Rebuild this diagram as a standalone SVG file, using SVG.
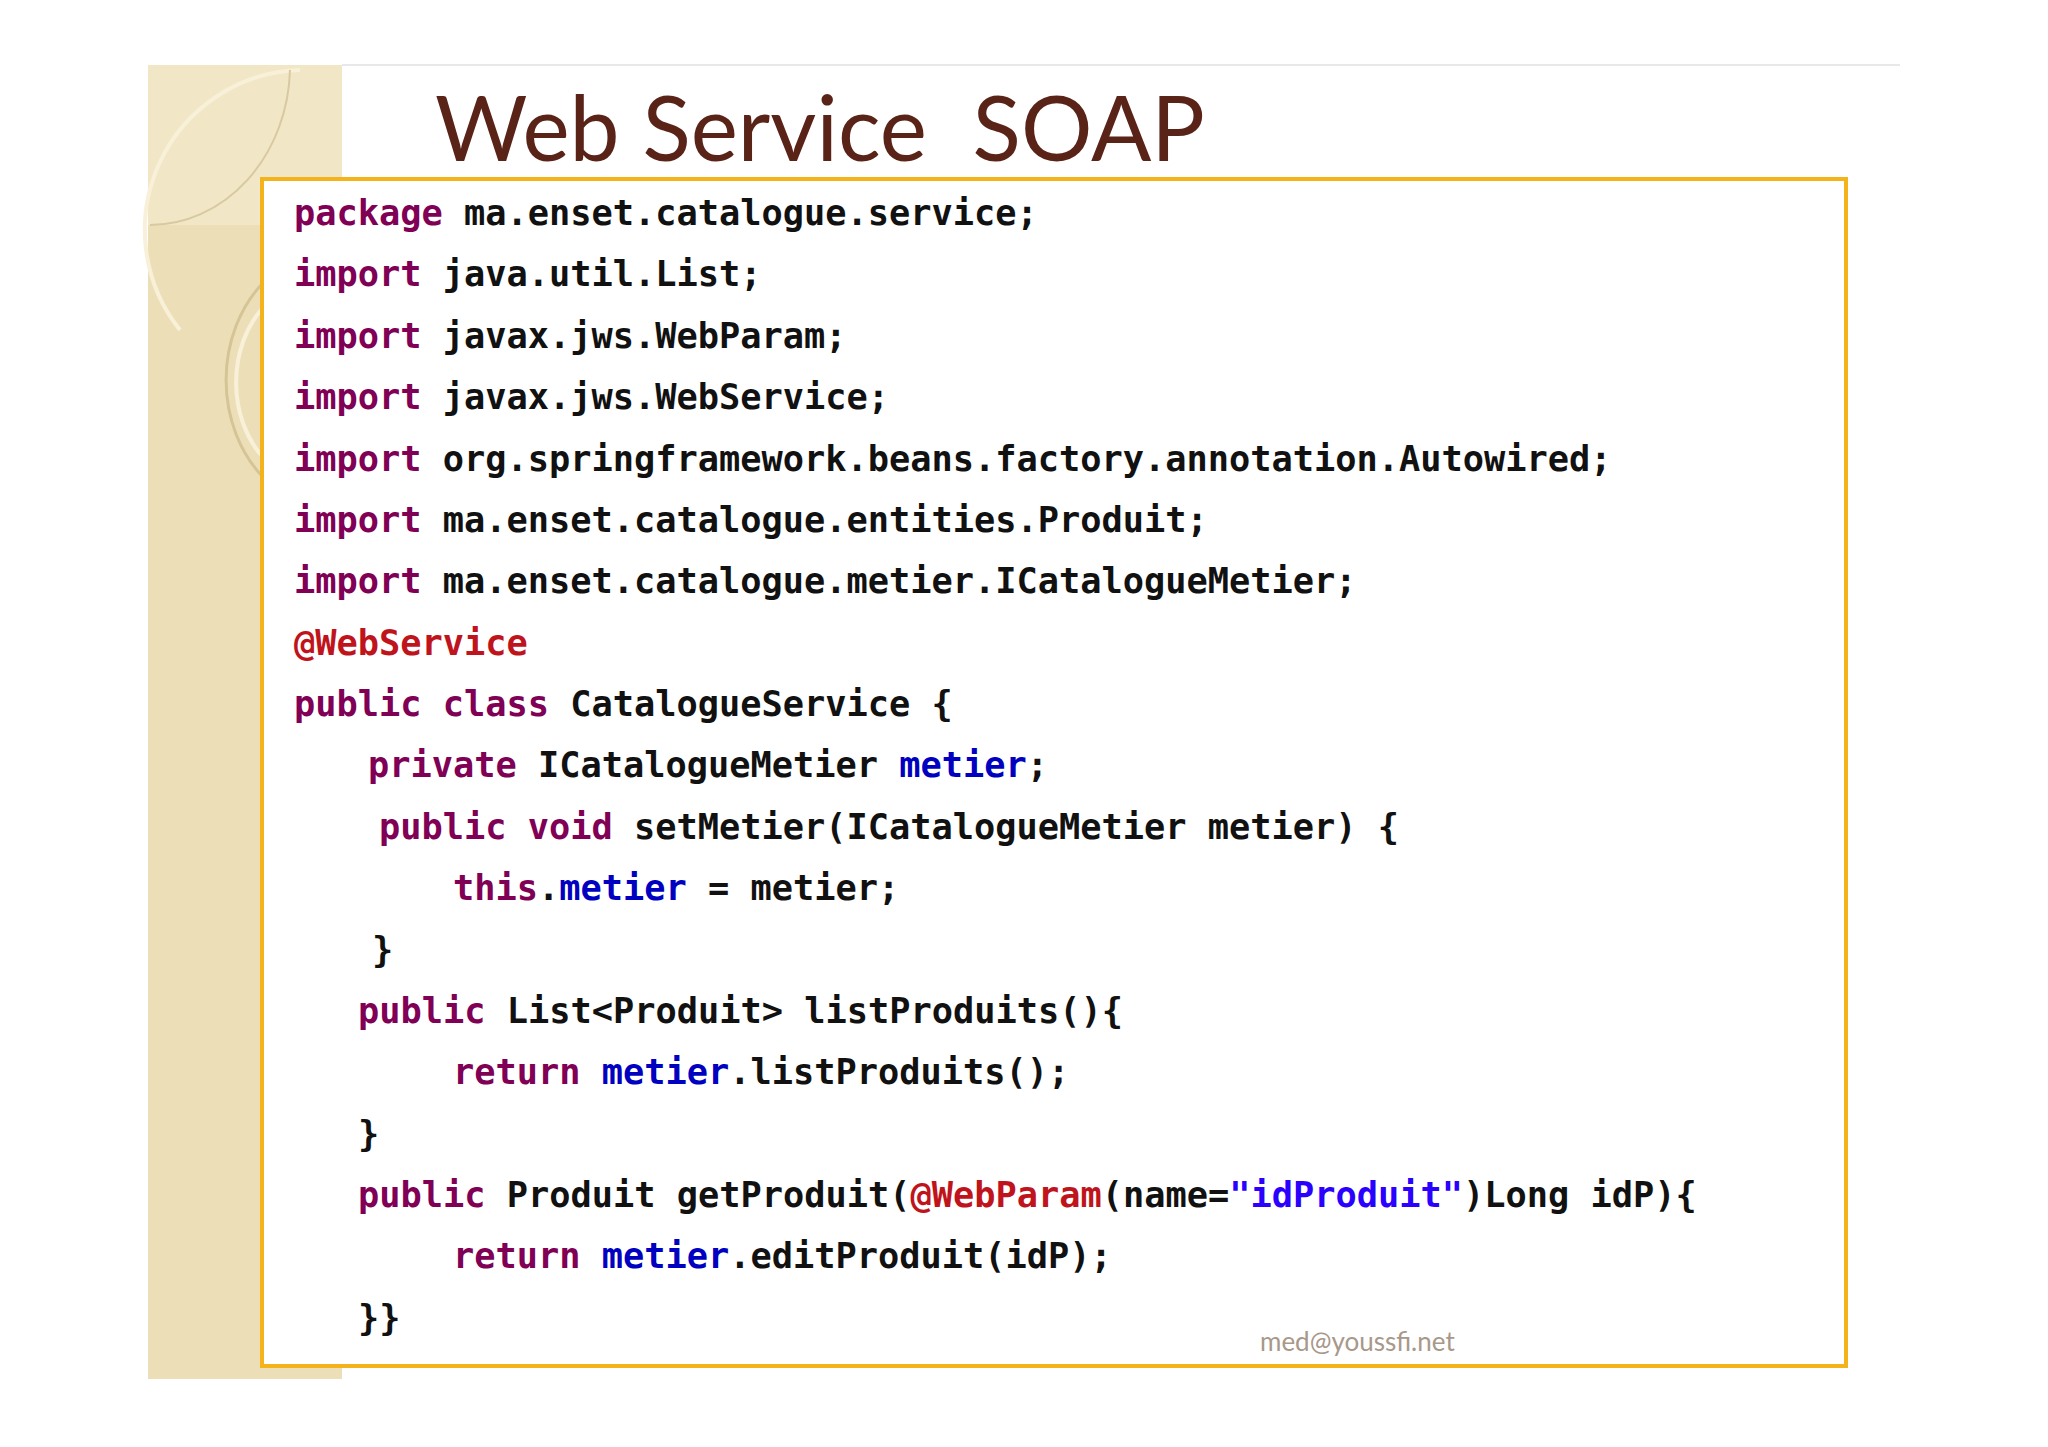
<svg xmlns="http://www.w3.org/2000/svg" width="2048" height="1447" viewBox="0 0 2048 1447">
<style>
.c{font-family:"DejaVu Sans Mono","Liberation Mono",monospace;font-size:35.3px;font-weight:bold;fill:#111}
.k{fill:#7f0055}.a{fill:#c0141c}.f{fill:#0000c0}.s{fill:#2a00ff}
</style>
<rect width="2048" height="1447" fill="#fff"/>
<g id="deco">
<rect x="148" y="65" width="194" height="1314" fill="#ecdfb8"/>
<rect x="148" y="65" width="194" height="160" fill="#f1e6c6"/>
<line x1="342" y1="65" x2="1900" y2="65" stroke="#e8e8e8" stroke-width="2"/>
<path d="M300 70 A160 160 0 0 0 180 330" fill="none" stroke="#f8f0d8" stroke-width="4"/>
<path d="M290 70 A140 160 0 0 1 150 225" fill="none" stroke="#d8c9a0" stroke-width="2"/>
<path d="M261 285 A110 130 0 0 0 261 475" fill="none" stroke="#d6c497" stroke-width="3"/>
<path d="M261 310 A80 100 0 0 0 261 455" fill="none" stroke="#f8f0d8" stroke-width="4"/>
</g>
<g id="title"><text x="435" y="161" font-family="Lato,'Open Sans',sans-serif" font-size="92" fill="#5a2318" textLength="770" lengthAdjust="spacingAndGlyphs" xml:space="preserve">Web Service  SOAP</text></g>
<g id="codebox">
<rect x="262" y="179" width="1584" height="1187" fill="#fff" stroke="#f5b31b" stroke-width="4"/>
<g class="c" xml:space="preserve">
<text x="294" y="225"><tspan class="k">package</tspan> ma.enset.catalogue.service;</text>
<text x="294" y="286"><tspan class="k">import</tspan> java.util.List;</text>
<text x="294" y="348"><tspan class="k">import</tspan> javax.jws.WebParam;</text>
<text x="294" y="409"><tspan class="k">import</tspan> javax.jws.WebService;</text>
<text x="294" y="471"><tspan class="k">import</tspan> org.springframework.beans.factory.annotation.Autowired;</text>
<text x="294" y="532"><tspan class="k">import</tspan> ma.enset.catalogue.entities.Produit;</text>
<text x="294" y="593"><tspan class="k">import</tspan> ma.enset.catalogue.metier.ICatalogueMetier;</text>
<text x="294" y="655" class="c a">@WebService</text>
<text x="294" y="716"><tspan class="k">public</tspan> <tspan class="k">class</tspan> CatalogueService {</text>
<text x="368" y="777"><tspan class="k">private</tspan> ICatalogueMetier <tspan class="f">metier</tspan>;</text>
<text x="379" y="839"><tspan class="k">public</tspan> <tspan class="k">void</tspan> setMetier(ICatalogueMetier metier) {</text>
<text x="453" y="900"><tspan class="k">this</tspan>.<tspan class="f">metier</tspan> = metier;</text>
<text x="372" y="962">}</text>
<text x="358" y="1023"><tspan class="k">public</tspan> List&lt;Produit&gt; listProduits(){</text>
<text x="453" y="1084"><tspan class="k">return</tspan> <tspan class="f">metier</tspan>.listProduits();</text>
<text x="358" y="1146">}</text>
<text x="358" y="1207"><tspan class="k">public</tspan> Produit getProduit(<tspan class="a">@WebParam</tspan>(name=<tspan class="s">"idProduit"</tspan>)Long idP){</text>
<text x="453" y="1268"><tspan class="k">return</tspan> <tspan class="f">metier</tspan>.editProduit(idP);</text>
<text x="358" y="1330">}}</text>
</g>
<text x="1260" y="1351" font-family="Lato,'Open Sans',sans-serif" font-size="26" fill="#a8988a">med@youssfi.net</text>
</g>
</svg>
